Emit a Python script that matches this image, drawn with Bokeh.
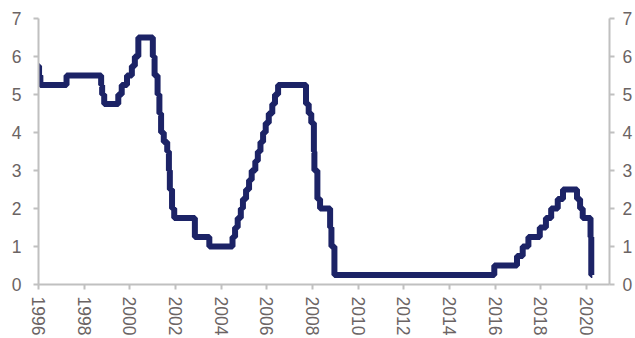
import pandas as pd
from bokeh.plotting import figure
from bokeh.models import LinearAxis, Range1d, FixedTicker
from bokeh.embed import file_html
from bokeh.resources import INLINE

# Policy rate step changes (date, level in %)
dates = [
    "1996-01-01", "1996-01-10", "1996-01-31", "1997-03-25", "1998-09-29", "1998-10-15",
    "1998-11-17", "1999-06-30", "1999-08-24", "1999-11-16", "2000-02-02", "2000-03-21",
    "2000-05-16", "2001-01-03", "2001-01-31", "2001-03-20", "2001-04-18", "2001-05-15",
    "2001-06-27", "2001-08-21", "2001-09-17", "2001-10-02", "2001-11-06", "2001-12-11",
    "2002-11-06", "2003-06-25", "2004-06-30", "2004-08-10", "2004-09-21", "2004-11-10",
    "2004-12-14", "2005-02-02", "2005-03-22", "2005-05-03", "2005-06-30", "2005-08-09",
    "2005-09-20", "2005-11-01", "2005-12-13", "2006-01-31", "2006-03-28", "2006-05-10",
    "2006-06-29", "2007-09-18", "2007-10-31", "2007-12-11", "2008-01-22", "2008-01-30",
    "2008-03-18", "2008-04-30", "2008-10-08", "2008-10-29", "2008-12-16", "2015-12-16",
    "2016-12-14", "2017-03-15", "2017-06-14", "2017-12-13", "2018-03-21", "2018-06-13",
    "2018-09-26", "2018-12-19", "2019-07-31", "2019-09-18", "2019-10-30", "2020-03-03",
    "2020-03-15", "2020-04-01",
]
rates = [
    5.75, 5.50, 5.25, 5.50, 5.25, 5.00,
    4.75, 5.00, 5.25, 5.50, 5.75, 6.00,
    6.50, 6.00, 5.50, 5.00, 4.50, 4.00,
    3.75, 3.50, 3.00, 2.50, 2.00, 1.75,
    1.25, 1.00, 1.25, 1.50, 1.75, 2.00,
    2.25, 2.50, 2.75, 3.00, 3.25, 3.50,
    3.75, 4.00, 4.25, 4.50, 4.75, 5.00,
    5.25, 4.75, 4.50, 4.25, 3.50, 3.00,
    2.25, 2.00, 1.50, 1.00, 0.25, 0.50,
    0.75, 1.00, 1.25, 1.50, 1.75, 2.00,
    2.25, 2.50, 2.25, 2.00, 1.75, 1.25,
    0.25, 0.25,
]
year_ticks = list(range(1996, 2021, 2))
y_ticks = [0, 1, 2, 3, 4, 5, 6, 7]

d = pd.to_datetime(pd.Series(dates))
xs = (d.dt.year + (d.dt.dayofyear - 1) / (365 + d.dt.is_leap_year.astype(int))).tolist()

LINE = "#1c2366"
AXIS = "#c0c0c0"
TEXT = "#6b6464"
FONT = "Liberation Sans"

p = figure(width=635, height=338, output_backend="svg", toolbar_location=None,
           x_range=Range1d(1996, 2021), y_range=Range1d(0, 7),
           min_border_left=38, min_border_right=24, min_border_top=18, min_border_bottom=52,
           y_axis_location=None)
p.outline_line_color = None
p.xgrid.visible = False
p.ygrid.visible = False

p.step(xs, rates, mode="after", line_color=LINE, line_width=6)

xa = p.xaxis[0]
xa.ticker = FixedTicker(ticks=year_ticks)
xa.major_label_orientation = "vertical"

left = LinearAxis(ticker=FixedTicker(ticks=y_ticks))
right = LinearAxis(ticker=FixedTicker(ticks=y_ticks))
p.add_layout(left, "left")
p.add_layout(right, "right")

for ax in (xa, left, right):
    ax.axis_line_color = AXIS
    ax.axis_line_width = 2
    ax.major_tick_line_color = AXIS
    ax.major_tick_line_width = 2
    ax.major_tick_in = 0
    ax.major_tick_out = 5
    ax.minor_tick_line_color = None
    ax.major_label_text_color = TEXT
    ax.major_label_text_font = FONT
    ax.major_label_text_font_size = "17.5px"
left.major_label_standoff = 12
right.major_label_standoff = 8
xa.major_label_standoff = 7

open("out.html", "w").write(file_html(p, INLINE))
